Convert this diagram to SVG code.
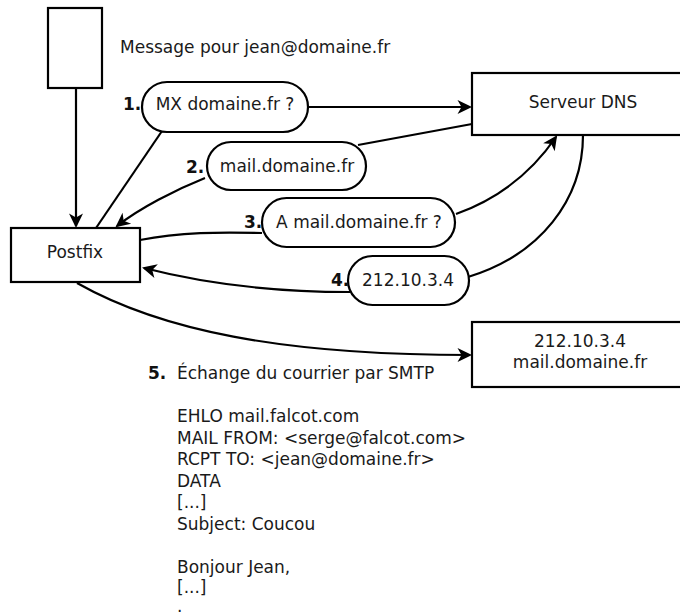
<svg xmlns="http://www.w3.org/2000/svg" width="680" height="615" viewBox="0 0 680 615">
<style>
  .box{fill:#fff;stroke:#000;stroke-width:2.2}
  .ln{fill:none;stroke:#000;stroke-width:2.2}
  .ar{marker-end:url(#arr)}
  text{font-family:"DejaVu Sans",Verdana,sans-serif;font-size:17px;fill:#1a1a1a}
  .c{text-anchor:middle}
  .b{font-weight:bold;fill:#111}
</style>
<defs>
  <marker id="arr" markerUnits="userSpaceOnUse" orient="auto" overflow="visible" refX="0" refY="0" markerWidth="20" markerHeight="20">
    <path d="M2,0 L-12.5,-7 L-8.5,0 L-12.5,7 Z" fill="#000"/>
  </marker>
</defs>
<rect width="680" height="615" fill="#fff"/>

<g id="connectors">
  <path class="ln ar" d="M76,88 L76,226"/>
  <path class="ln ar" d="M308,107 L470,107"/>
  <path class="ln" d="M472,124 L358,145"/>
  <path class="ln" d="M162,131 L96,228"/>
  <path class="ln ar" d="M205,178 C175,190 140,208 117,226"/>
  <path class="ln" d="M140,240 C180,232 220,232 262,233"/>
  <path class="ln ar" d="M456,214 C495,200 530,175 556,137"/>
  <path class="ln" d="M583,135 C583,200 540,255 468,277"/>
  <path class="ln ar" d="M350,292 C280,292 210,285 144,268"/>
  <path class="ln ar" d="M77,283 C160,330 280,355 470,355"/>
</g>

<g id="message">
  <rect class="box" x="48" y="8" width="54" height="80"/>
  <text x="120" y="53">Message pour jean@domaine.fr</text>
</g>

<g id="postfix">
  <rect class="box" x="11" y="228" width="129" height="54"/>
  <text class="c" x="75" y="258">Postfix</text>
</g>

<g id="dns">
  <rect class="box" x="472" y="73" width="222" height="62"/>
  <text class="c" x="583" y="108">Serveur DNS</text>
</g>

<g id="step1">
  <text class="b" x="123" y="110">1.</text>
  <rect class="box" x="142" y="82" width="166" height="50" rx="25"/>
  <text class="c" x="225" y="110">MX domaine.fr ?</text>
</g>

<g id="step2">
  <text class="b" x="186" y="173">2.</text>
  <rect class="box" x="207" y="142" width="159" height="48" rx="24"/>
  <text class="c" x="287" y="172">mail.domaine.fr</text>
</g>

<g id="step3">
  <text class="b" x="244" y="228">3.</text>
  <rect class="box" x="262" y="198" width="193" height="49" rx="24.5"/>
  <text class="c" x="359" y="228">A mail.domaine.fr ?</text>
</g>

<g id="step4">
  <text class="b" x="331" y="286">4.</text>
  <rect class="box" x="348" y="256" width="121" height="49" rx="24.5"/>
  <text class="c" x="408" y="286">212.10.3.4</text>
</g>

<g id="mx">
  <rect class="box" x="472" y="322" width="218" height="65"/>
  <text class="c" x="580" y="347">212.10.3.4</text>
  <text class="c" x="580" y="368">mail.domaine.fr</text>
</g>

<g id="smtp">
  <text class="b" x="148" y="379">5.</text>
  <text x="177" y="379">Échange du courrier par SMTP</text>
  <text x="177" y="422">EHLO mail.falcot.com</text>
  <text x="177" y="443.5">MAIL FROM: &lt;serge@falcot.com&gt;</text>
  <text x="177" y="465">RCPT TO: &lt;jean@domaine.fr&gt;</text>
  <text x="177" y="486.5">DATA</text>
  <text x="177" y="508">[...]</text>
  <text x="177" y="529.5">Subject: Coucou</text>
  <text x="177" y="572.5">Bonjour Jean,</text>
  <text x="177" y="593">[...]</text>
  <text x="177" y="612" font-size="13">.</text>
</g>
</svg>
